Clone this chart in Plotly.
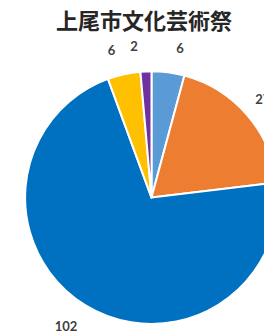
import plotly.graph_objects as go

labels = ["A", "B", "C", "D", "E"]
values = [6, 27, 102, 6, 2]
colors = ["#5B9BD5", "#ED7D31", "#0070C0", "#FFC000", "#7030A0"]
title = "上尾市文化芸術祭"

NB = "\u00a0"
# Excel-like label distance from the pie: pad each label with a blank line
# on the side that faces the pie.
def padded(v, below):
    return f"{v}<br>{NB}" if below else f"{NB}<br>{v}"

pad_below = [True, True, False, True, True]
main_text = [padded(v, b) if v > 2 else "" for v, b in zip(values, pad_below)]
small_text = [padded(v, b) if v <= 2 else "" for v, b in zip(values, pad_below)]

common = dict(
    labels=labels,
    values=values,
    sort=False,
    direction="clockwise",
    rotation=0,
    textinfo="text",
    textposition="outside",
    textfont=dict(family="Lato", size=13, color="#404040", weight="bold"),
    domain=dict(x=[0.0, 1.0], y=[0.0, 0.8]),
    showlegend=False,
    hoverinfo="skip",
)

fig = go.Figure()
fig.add_trace(go.Pie(
    text=main_text,
    marker=dict(colors=colors, line=dict(color="white", width=2)),
    **common,
))
fig.add_trace(go.Pie(
    text=small_text,
    marker=dict(colors=["rgba(0,0,0,0)"] * len(values), line=dict(width=0)),
    **common,
))

fig.update_layout(
    width=278,
    height=331,
    margin=dict(l=16, r=0, t=0, b=0),
    paper_bgcolor="white",
    plot_bgcolor="white",
    title=dict(text=title, x=136 / 278, xanchor="center", y=0.982, yanchor="top",
               font=dict(family="Noto Sans CJK JP", size=22, color="#262626",
                         weight="bold")),
)

fig.write_html("out.html")
